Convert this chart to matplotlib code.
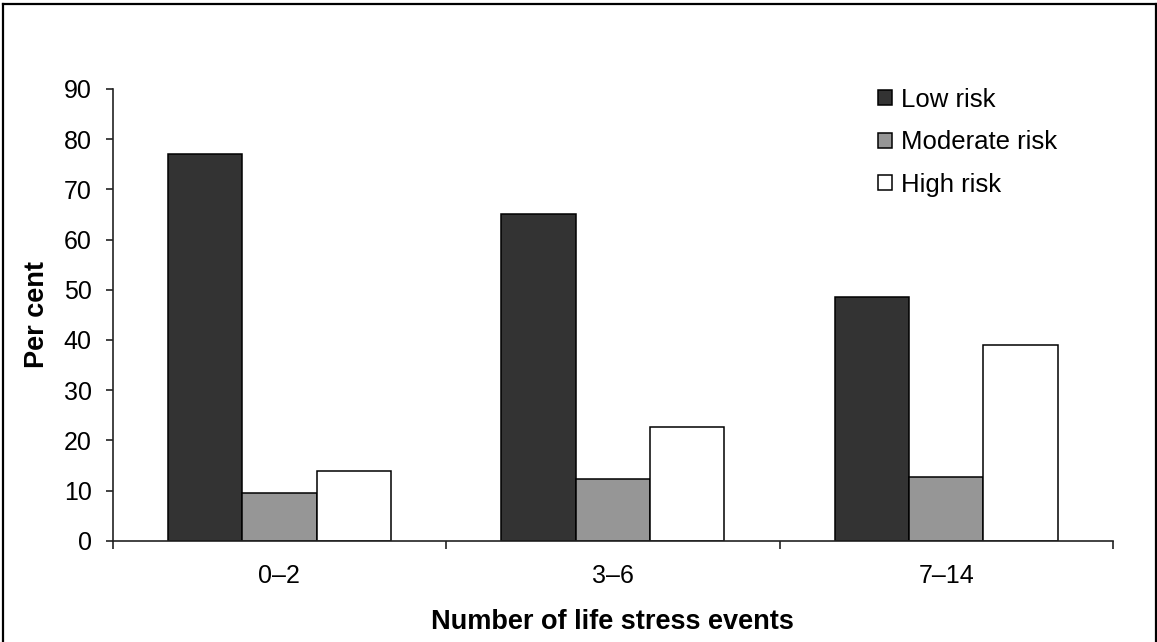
import numpy as np
import matplotlib
matplotlib.use("Agg")
import matplotlib.pyplot as plt
from matplotlib.lines import Line2D

plt.rcParams['font.family'] = ['Liberation Sans', 'DejaVu Sans']

#categories and series
groups = ['0\u20132', '3\u20136', '7\u201314']
series = ['Low risk', 'Moderate risk', 'High risk']
low_risk = [77.0, 65.0, 48.6]
moderate_risk = [9.6, 12.3, 12.6]
high_risk = [13.8, 22.7, 39.0]

#fill colours, one per series
fills = ['#333333', '#969696', '#ffffff']

W, H, DPI = 1157, 642, 100
fig = plt.figure(figsize=(W/DPI, H/DPI), dpi=DPI)
ax = fig.add_axes([112.7/W, 1-540.7/H, (1113-112.7)/W, (540.7-89)/H])

x = np.arange(len(groups))
bw = 0.2228
for k, vals in enumerate([low_risk, moderate_risk, high_risk]):
    ax.bar(x + (k-1)*bw, vals, width=bw, color=fills[k], edgecolor='black',
           linewidth=1.1, label=series[k], zorder=2)

ax.set_xlim(-0.5, 2.5)
ax.set_ylim(0, 90)
ax.set_yticks(np.arange(0, 91, 10))

#ticks sit on the category boundaries, labels in between
ax.set_xticks([-0.5, 0.5, 1.5, 2.5])
ax.set_xticklabels([])
ax.set_xticks(x, minor=True)
ax.set_xticklabels(groups, minor=True)
ax.tick_params(axis='x', which='major', direction='out', length=6, width=1.2, color='#222222')
ax.tick_params(axis='x', which='minor', length=0, pad=17, labelsize=18)
ax.tick_params(axis='y', direction='out', length=5, width=1.2, pad=10, labelsize=18,
               color='#222222')

for s in ['top', 'right']:
    ax.spines[s].set_visible(False)
for s in ['left', 'bottom']:
    ax.spines[s].set_linewidth(1.2)
    ax.spines[s].set_color('#222222')

ax.set_ylabel('Per cent', fontsize=19.5, fontweight='bold', labelpad=10)
ax.set_xlabel('Number of life stress events', fontsize=19.5, fontweight='bold', labelpad=15)

leg = ax.legend(loc='upper left', bbox_to_anchor=(865/W, 1-75/H), bbox_transform=fig.transFigure,
                frameon=False, fontsize=18.5, handlelength=0.55, handleheight=0.55,
                handletextpad=0.35, labelspacing=0.72, borderpad=0)

#outer frame around the figure
frame = dict(color='black', linewidth=1.6, transform=fig.transFigure)
fig.add_artist(Line2D([2.5/W, 2.5/W], [0, 1-3.5/H], **frame))
fig.add_artist(Line2D([2.5/W, 1155.5/W], [1-3.5/H, 1-3.5/H], **frame))
fig.add_artist(Line2D([1155.5/W, 1155.5/W], [0, 1-3.5/H], **frame))

fig.savefig('out.png', dpi=DPI)
